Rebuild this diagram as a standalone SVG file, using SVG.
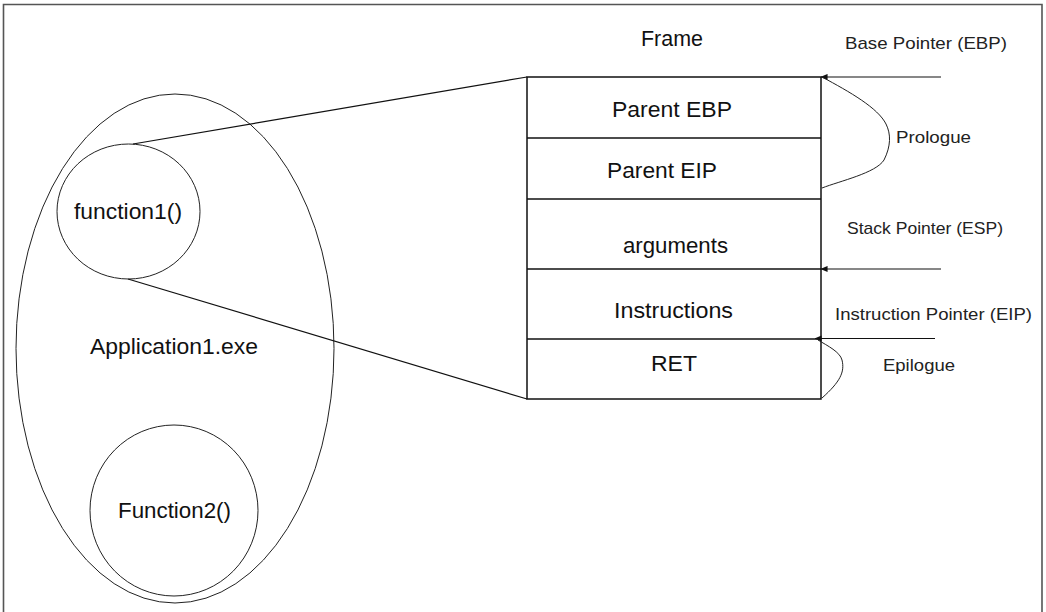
<svg xmlns="http://www.w3.org/2000/svg" width="1046" height="612" viewBox="0 0 1046 612">
  <style>
    .ln { fill: none; stroke: #111; stroke-width: 1.2; }
    .thin { fill: none; stroke: #222; stroke-width: 1; }
    .box { fill: none; stroke: #111; stroke-width: 1.5; }
    .big { font-family: "Liberation Sans", Arial, sans-serif; font-size: 22px; fill: #111; }
    .lbl { font-family: "Liberation Sans", Arial, sans-serif; font-size: 17px; fill: #222; }
  </style>
  <defs>
    <marker id="arrow" viewBox="0 0 8 8" refX="7.5" refY="4" markerWidth="7" markerHeight="7" markerUnits="userSpaceOnUse" orient="auto">
      <path d="M0,0.5 L8,4 L0,7.5 Z" fill="#111"/>
    </marker>
  </defs>

  <rect width="1046" height="612" fill="#fff"/>
  <!-- outer frame (open at the bottom) -->
  <path d="M3.5,612 V4.5 H1042 V612" fill="none" stroke="#555" stroke-width="1.6"/>

  <!-- application process -->
  <g id="application">
    <ellipse cx="175" cy="348.5" rx="159" ry="254.5" class="thin"/>
    <text class="big" x="90" y="354" textLength="168" lengthAdjust="spacingAndGlyphs">Application1.exe</text>
  </g>

  <g id="function1">
    <ellipse cx="128.5" cy="211.5" rx="71.5" ry="67.5" class="thin"/>
    <text class="big" x="74" y="219" textLength="108" lengthAdjust="spacingAndGlyphs">function1()</text>
  </g>

  <g id="function2">
    <ellipse cx="174" cy="510.5" rx="84" ry="85.5" class="thin"/>
    <text class="big" x="118" y="518" textLength="113" lengthAdjust="spacingAndGlyphs">Function2()</text>
  </g>

  <!-- stack frame -->
  <g id="frame">
    <text class="big" x="641" y="46" font-size="20" textLength="62" lengthAdjust="spacingAndGlyphs">Frame</text>
    <rect x="527" y="77" width="294" height="322" class="box"/>
    <line x1="527" y1="138" x2="821" y2="138" class="box"/>
    <line x1="527" y1="199" x2="821" y2="199" class="box"/>
    <line x1="527" y1="269" x2="821" y2="269" class="box"/>
    <line x1="527" y1="339" x2="821" y2="339" class="box"/>
  </g>
  <g id="parent-ebp">
    <text class="big" x="612" y="117" textLength="120" lengthAdjust="spacingAndGlyphs">Parent EBP</text>
  </g>
  <g id="parent-eip">
    <text class="big" x="607" y="178" textLength="110" lengthAdjust="spacingAndGlyphs">Parent EIP</text>
  </g>
  <g id="arguments">
    <text class="big" x="623" y="253" textLength="105" lengthAdjust="spacingAndGlyphs">arguments</text>
  </g>
  <g id="instructions">
    <text class="big" x="614" y="318" textLength="119" lengthAdjust="spacingAndGlyphs">Instructions</text>
  </g>
  <g id="ret">
    <text class="big" x="651" y="371" textLength="46" lengthAdjust="spacingAndGlyphs">RET</text>
  </g>

  <!-- register labels -->
  <g id="ebp">
    <text class="lbl" x="845" y="49" textLength="162" lengthAdjust="spacingAndGlyphs">Base Pointer (EBP)</text>
  </g>
  <g id="esp">
    <text class="lbl" x="847" y="234" textLength="156" lengthAdjust="spacingAndGlyphs">Stack Pointer (ESP)</text>
  </g>
  <g id="eip">
    <text class="lbl" x="835" y="320" textLength="197" lengthAdjust="spacingAndGlyphs">Instruction Pointer (EIP)</text>
  </g>
  <g id="prologue">
    <text class="lbl" x="896" y="143" textLength="75" lengthAdjust="spacingAndGlyphs">Prologue</text>
  </g>
  <g id="epilogue">
    <text class="lbl" x="883" y="371" textLength="72" lengthAdjust="spacingAndGlyphs">Epilogue</text>
  </g>

  <g id="connectors">
    <!-- zoom lines from function1 to the frame -->
    <line x1="133" y1="144" x2="527" y2="77" class="ln"/>
    <line x1="128" y1="279" x2="527" y2="399" class="ln"/>
    <!-- register pointers -->
    <line x1="941" y1="77" x2="821" y2="77" class="ln" marker-end="url(#arrow)"/>
    <line x1="941" y1="269" x2="821" y2="269" class="ln" marker-end="url(#arrow)"/>
    <line x1="935" y1="338.5" x2="815" y2="338.5" class="ln" marker-end="url(#arrow)"/>
    <!-- prologue / epilogue brackets -->
    <path d="M822,77 C850,92 878,108 886,124 C891,134 891,146 884,160 C876,173 840,181 822,188" class="thin"/>
    <path d="M818,340 C828,346 840,352 842,360 C845,372 840,382 822,398" class="thin"/>
  </g>
</svg>
